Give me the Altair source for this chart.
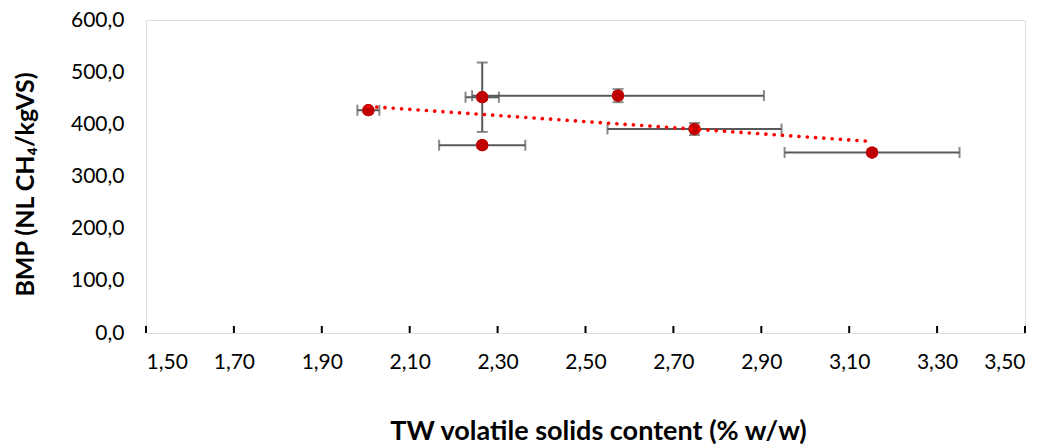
import altair as alt
import pandas as pd

# data
vs_content = [2.006, 2.265, 2.265, 2.574, 2.748, 3.152]
bmp = [427.0, 452.0, 360.0, 455.0, 391.0, 346.0]
vs_err = [0.025, 0.038, 0.098, 0.332, 0.198, 0.199]
bmp_err = [0.0, 66.5, 0.0, 12.5, 11.5, 0.0]
x_ticks = [1.5, 1.7, 1.9, 2.1, 2.3, 2.5, 2.7, 2.9, 3.1, 3.3, 3.5]
y_ticks = [0, 100, 200, 300, 400, 500, 600]

df = pd.DataFrame({
    "x": vs_content,
    "y": bmp,
    "xlo": [a - e for a, e in zip(vs_content, vs_err)],
    "xhi": [a + e for a, e in zip(vs_content, vs_err)],
    "ylo": [a - e for a, e in zip(bmp, bmp_err)],
    "yhi": [a + e for a, e in zip(bmp, bmp_err)],
})
ticks_df = pd.DataFrame({"t": x_ticks})

FONT = "Lato"
W, H = 879, 313

xscale = alt.Scale(domain=[1.5, 3.5], nice=False, zero=False)
yscale = alt.Scale(domain=[0, 600], nice=False)

xaxis = alt.Axis(
    title="TW volatile solids content (% w/w)",
    values=x_ticks, ticks=False, domain=False, grid=False,
    labelExpr="replace(format(datum.value, '.2f'), '.', ',')",
    labelFont=FONT, labelFontSize=21, labelColor="#000", labelPadding=18,
    titleFont=FONT, titleFontSize=27, titleFontWeight="bold", titleColor="#000",
    titleX=452, titleY=85, titleBaseline="top", titleAlign="center",
)
yaxis = alt.Axis(
    title="BMP (NL CH₄/kgVS)",
    values=y_ticks, ticks=False, domain=False, grid=False,
    labelExpr="replace(format(datum.value, '.1f'), '.', ',')",
    labelFont=FONT, labelFontSize=21, labelColor="#000", labelPadding=22,
    titleFont=FONT, titleFontSize=25, titleFontWeight="bold", titleColor="#000",
    titleX=-121, titleY=164, titleBaseline="middle", titleAlign="center", titleAngle=-90,
)

base = alt.Chart(df)

pts_axes = base.mark_circle(size=150, color="#C00000", opacity=1).encode(
    x=alt.X("x:Q", scale=xscale, axis=xaxis),
    y=alt.Y("y:Q", scale=yscale, axis=yaxis),
)

ERR = "#595959"
xbar = base.mark_rule(color=ERR, strokeWidth=2).encode(
    x=alt.X("xlo:Q", scale=xscale), x2="xhi:Q", y=alt.Y("y:Q", scale=yscale))
xcap_lo = base.mark_tick(color=ERR, orient="vertical", size=11, thickness=2).encode(
    x=alt.X("xlo:Q", scale=xscale), y=alt.Y("y:Q", scale=yscale))
xcap_hi = base.mark_tick(color=ERR, orient="vertical", size=11, thickness=2).encode(
    x=alt.X("xhi:Q", scale=xscale), y=alt.Y("y:Q", scale=yscale))
ybar = base.mark_rule(color=ERR, strokeWidth=2).encode(
    x=alt.X("x:Q", scale=xscale), y=alt.Y("ylo:Q", scale=yscale), y2="yhi:Q")
ycap_lo = base.mark_tick(color=ERR, orient="horizontal", size=11, thickness=2).encode(
    x=alt.X("x:Q", scale=xscale), y=alt.Y("ylo:Q", scale=yscale))
ycap_hi = base.mark_tick(color=ERR, orient="horizontal", size=11, thickness=2).encode(
    x=alt.X("x:Q", scale=xscale), y=alt.Y("yhi:Q", scale=yscale))

trend = base.transform_regression("x", "y").mark_line(
    color="#FF0000", strokeWidth=3.6, strokeCap="round", strokeDash=[0.1, 8.2]
).encode(x=alt.X("x:Q", scale=xscale), y=alt.Y("y:Q", scale=yscale))

xticks = alt.Chart(ticks_df).mark_rule(color="#000", strokeWidth=2).encode(
    x=alt.X("t:Q", scale=xscale), y=alt.value(H - 7), y2=alt.value(H))

chart = alt.layer(
    pts_axes, xticks, xbar, xcap_lo, xcap_hi, ybar, ycap_lo, ycap_hi,
    pts_axes.encode(), trend,
).properties(
    width=W, height=H,
    autosize=alt.AutoSizeParams(type="none"),
    padding={"left": 138, "top": 12, "right": 15, "bottom": 116},
).configure_view(stroke="#000", strokeWidth=2).configure(background="white")

chart.save("out.html", embed_options={"renderer": "svg", "actions": False})
